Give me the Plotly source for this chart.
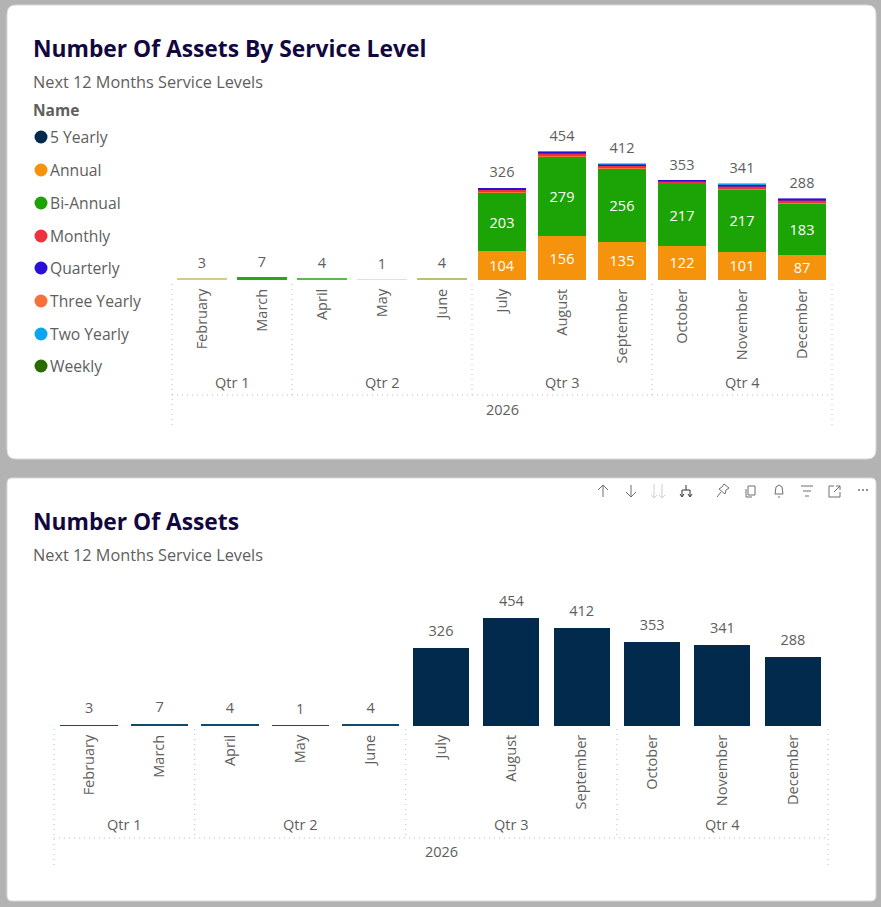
import plotly.graph_objects as go

months = ["February", "March", "April", "May", "June", "July", "August",
          "September", "October", "November", "December"]
quarters = ["Qtr 1", "Qtr 2", "Qtr 3", "Qtr 4"]
quarter_sizes = [2, 3, 3, 3]
year = "2026"
totals = [3, 7, 4, 1, 4, 326, 454, 412, 353, 341, 288]

five_yearly  = [None, None, None, None, None, None, None, 1, None, None, None]
annual       = [2, 1, 1, None, 2, 104, 156, 135, 122, 101, 87]
bi_annual    = [1, 6, 3, 1, 2, 203, 279, 256, 217, 217, 183]
three_yearly = [None, None, None, None, None, 4, 5, 4, 3, 4, 4]
monthly      = [None, None, None, None, None, 9, 9, 10, 8, 10, 9]
quarterly    = [None, None, None, None, None, 5, 5, 5, 3, 6, 5]
two_yearly   = [None, None, None, None, None, None, None, 1, None, 3, None]
weekly       = [None, None, None, None, None, 1, None, None, None, None, None]

legend_names = ["5 Yearly", "Annual", "Bi-Annual", "Monthly", "Quarterly",
                "Three Yearly", "Two Yearly", "Weekly"]
colors = {"5 Yearly": "#012A4D", "Annual": "#F5930C", "Bi-Annual": "#1CA305",
          "Monthly": "#EE3340", "Quarterly": "#2A0FD6", "Three Yearly": "#F7723A",
          "Two Yearly": "#0BA6EE", "Weekly": "#2B6A00"}
stack_order = [("5 Yearly", five_yearly), ("Annual", annual), ("Bi-Annual", bi_annual),
               ("Three Yearly", three_yearly), ("Monthly", monthly),
               ("Quarterly", quarterly), ("Two Yearly", two_yearly), ("Weekly", weekly)]

# blended tint of the sub-pixel bars in the first five months
thin_tint = ["#D2CB8E", "#2CA51A", "#55BC48", "#D6E8D2", "#B9C06E"]

W, H = 881, 907
FONT = "Open Sans"
GREY = "#605E5C"
NAVY = "#12083F"
DOT = "#BDBDBD"

def px(x): return x / W
def py(y): return 1 - y / H

fig = go.Figure()

# --- top chart
for name, vals in stack_order:
    base = colors[name]
    if name in ("Annual", "Bi-Annual"):
        fill = thin_tint + [base] * 6
        lc = fill
        lw = [1.5] * 5 + [0] * 6
    elif name in ("Quarterly", "Two Yearly"):
        fill, lc, lw = base, base, 0.6
    else:
        fill, lc, lw = base, base, 0
    fig.add_trace(go.Bar(
        x=months, y=vals, name=name, marker=dict(color=fill, line=dict(color=lc, width=lw)),
        text=[str(v) if v and v > 50 else "" for v in vals], textposition="inside",
        insidetextanchor="middle", textangle=0, constraintext="none",
        insidetextfont=dict(color="white", size=14.5, family=FONT),
        hoverinfo="x+y+name", showlegend=False, xaxis="x", yaxis="y"))
fig.add_trace(go.Scatter(
    x=months, y=totals, mode="markers+text", text=[str(t) for t in totals],
    textposition="top center", marker=dict(size=10, opacity=0),
    textfont=dict(color=GREY, size=14.5, family=FONT), cliponaxis=False,
    showlegend=False, hoverinfo="skip", xaxis="x", yaxis="y"))

# --- bottom chart
fig.add_trace(go.Bar(
    x=months, y=totals, marker=dict(color="#012A4D", line=dict(color="#0E4A6B", width=[1.5 if t < 50 else 0 for t in totals])),
    showlegend=False, xaxis="x2", yaxis="y2"))
fig.add_trace(go.Scatter(
    x=months, y=totals, mode="markers+text", text=[str(t) for t in totals],
    textposition="top center", marker=dict(size=12, opacity=0),
    textfont=dict(color=GREY, size=14.5, family=FONT), cliponaxis=False,
    showlegend=False, hoverinfo="skip", xaxis="x2", yaxis="y2"))

shapes, annos = [], []

def rrect(x0, y0, x1, y1, r):
    pts = (f"M{px(x0+r)},{py(y0)} L{px(x1-r)},{py(y0)} Q{px(x1)},{py(y0)} {px(x1)},{py(y0+r)} "
           f"L{px(x1)},{py(y1-r)} Q{px(x1)},{py(y1)} {px(x1-r)},{py(y1)} "
           f"L{px(x0+r)},{py(y1)} Q{px(x0)},{py(y1)} {px(x0)},{py(y1-r)} "
           f"L{px(x0)},{py(y0+r)} Q{px(x0)},{py(y0)} {px(x0+r)},{py(y0)} Z")
    shapes.append(dict(type="path", path=pts, xref="paper", yref="paper", layer="below",
                       fillcolor="white", line=dict(color="#D9D9D9", width=1)))

rrect(7, 5, 876, 459, 9)
rrect(7, 478, 876, 901, 5)

def text(x, y, s, size=14.5, color=GREY, bold=False, anchor="left"):
    annos.append(dict(x=px(x), y=py(y), xref="paper", yref="paper", text=f"<b>{s}</b>" if bold else s,
                      showarrow=False, xanchor=anchor, yanchor="middle",
                      font=dict(size=size, color=color, family=FONT), borderpad=0, borderwidth=0))

def dotted(x0, y0, x1, y1):
    shapes.append(dict(type="line", x0=px(x0), y0=py(y0), x1=px(x1), y1=py(y1),
                       xref="paper", yref="paper", layer="below",
                       line=dict(color=DOT, width=1, dash="1px,4px")))

def hierarchy(xl, xr, top, mid, bottom, qy, yy):
    step = (xr - xl) / len(months)
    edge = 0
    dotted(xl, top, xl, bottom)
    for q, n in zip(quarters, quarter_sizes):
        a = xl + edge * step
        edge += n
        b = xl + edge * step
        text((a + b) / 2, qy, q, anchor="center")
        dotted(b, top, b, bottom if edge == len(months) else mid)
    dotted(xl, mid, xr, mid)
    text((xl + xr) / 2, yy, year, anchor="center")

hierarchy(172, 832, 284, 395, 425, 382.5, 409.5)
hierarchy(54, 828, 729, 838, 867, 824.5, 851.5)

text(32.5, 48.5, "Number Of Assets By Service Level", size=22.8, color=NAVY, bold=True)
text(32.5, 82, "Next 12 Months Service Levels", size=16.3, color=GREY)
text(32.5, 521.5, "Number Of Assets", size=22.8, color=NAVY, bold=True)
text(32.5, 555, "Next 12 Months Service Levels", size=16.3, color=GREY)
text(32.5, 110, "Name", size=15.5, color=GREY, bold=True)

legend_y = [137, 170, 203, 236, 268, 301, 334, 366]
for name, ly in zip(legend_names, legend_y):
    shapes.append(dict(type="circle", xref="paper", yref="paper",
                       x0=px(34.5), x1=px(47.5), y0=py(ly + 6.5), y1=py(ly - 6.5),
                       fillcolor=colors[name], line=dict(width=0)))
    text(50, ly, name, size=15.7)

# toolbar icons
def icon(d, color="#6E6E6E"):
    shapes.append(dict(type="path", path=d, xref="paper", yref="paper", layer="above",
                       line=dict(color=color, width=1)))
def poly(points, close=False):
    s = "M" + " L".join(f"{px(a)},{py(b)}" for a, b in points)
    return s + (" Z" if close else "")

icon(poly([(603, 497), (603, 485)])); icon(poly([(598, 490), (603, 485), (608, 490)]))
icon(poly([(631, 485), (631, 497)])); icon(poly([(626, 492), (631, 497), (636, 492)]))
for xx in (654, 662):
    icon(poly([(xx, 484), (xx, 498)]), "#CFCFCF")
    icon(poly([(xx - 3, 495), (xx, 498), (xx + 3, 495)]), "#CFCFCF")
icon(poly([(686, 485), (686, 490)]), "#333333")
icon(poly([(682, 496), (682, 490), (690, 490), (690, 496)]), "#333333")
icon(poly([(680, 494), (682, 497), (684, 494)]), "#333333")
icon(poly([(688, 494), (690, 497), (692, 494)]), "#333333")
icon(poly([(717, 497), (721, 492)]))
icon(poly([(719, 489), (725, 494), (726, 490), (729, 488), (724, 484), (722, 487)], True))
icon(poly([(748, 486), (755, 486), (755, 495), (748, 495)], True))
icon(poly([(746, 489), (746, 497), (752, 497)]))
icon(poly([(775, 494), (776, 487), (779, 485), (782, 487), (783, 494)], True))
icon(poly([(778, 497), (780, 497)]))
icon(poly([(801, 486), (813, 486)])); icon(poly([(803, 491), (811, 491)])); icon(poly([(805, 496), (809, 496)]))
icon(poly([(834, 486), (829, 486), (829, 497), (840, 497), (840, 492)]))
icon(poly([(834, 492), (840, 486)])); icon(poly([(836, 486), (840, 486), (840, 490)]))
for xx in (859, 863, 867):
    shapes.append(dict(type="circle", xref="paper", yref="paper", x0=px(xx - 1), x1=px(xx + 1),
                       y0=py(491), y1=py(489), fillcolor="#6E6E6E", line=dict(width=0)))

xcommon = dict(type="category", categoryorder="array", categoryarray=months, tickangle=-90,
               range=[-0.5, 10.5],
               showgrid=False, zeroline=False, showline=False, ticks="outside", ticklen=2,
               tickcolor="rgba(0,0,0,0)", tickfont=dict(size=14.5, color=GREY, family=FONT))
ycommon = dict(visible=False, showgrid=False, zeroline=False)

fig.update_layout(
    width=W, height=H, margin=dict(l=0, r=0, t=0, b=0), autosize=False,
    paper_bgcolor="#B3B3B3", plot_bgcolor="rgba(0,0,0,0)", barmode="stack",
    bargap=0.205, hovermode="closest", showlegend=False,
    xaxis=dict(domain=[px(172), px(832)], anchor="y", **xcommon),
    yaxis=dict(domain=[py(280), py(130)], anchor="x", range=[0, 532], **ycommon),
    xaxis2=dict(domain=[px(54), px(828)], anchor="y2", **xcommon),
    yaxis2=dict(domain=[py(726), py(590)], anchor="x2", range=[0, 571], **ycommon),
    shapes=shapes, annotations=annos,
)

fig.write_html("out.html", config=dict(displayModeBar=False, staticPlot=True),
               post_script="document.body.style.margin='0';document.body.style.background='#B3B3B3';")
